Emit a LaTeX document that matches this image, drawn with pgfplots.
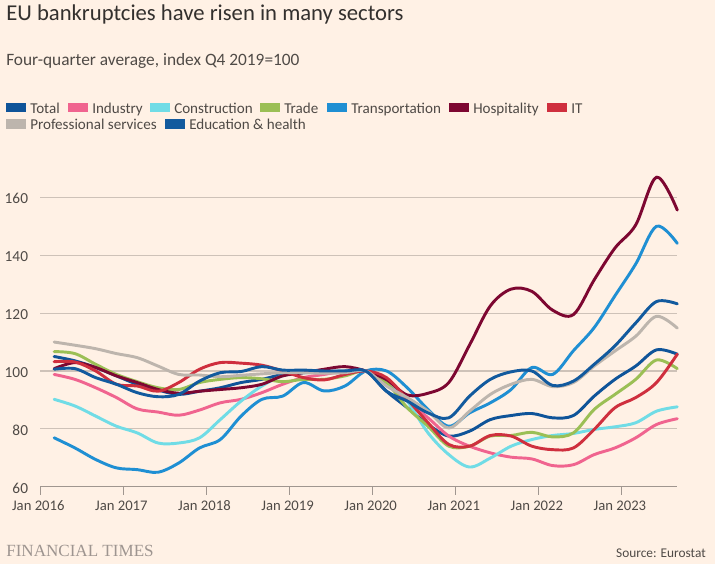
\documentclass[border=0pt]{standalone}
\usepackage{pgfplots}
\pgfplotsset{compat=1.18}
\usepackage{pgfplotstable}
\usepackage{fontspec}
\setmainfont{Carlito}
\newfontfamily\ftserif{Liberation Serif}
\definecolor{bgc}{HTML}{FFF1E5}
\definecolor{gridc}{HTML}{CEC2B8}
\definecolor{axisc}{HTML}{A0968F}
\definecolor{titlec}{HTML}{33302E}
\definecolor{subc}{HTML}{4F4A46}
\definecolor{tickc}{HTML}{4F4A46}
\definecolor{ftc}{HTML}{9E9590}
\definecolor{cTotal}{HTML}{0F5499}
\definecolor{cInd}{HTML}{F0648F}
\definecolor{cCon}{HTML}{70DCE6}
\definecolor{cTrade}{HTML}{9BBF55}
\definecolor{cTrans}{HTML}{1F8FD3}
\definecolor{cHosp}{HTML}{7D0731}
\definecolor{cIT}{HTML}{CF2F3E}
\definecolor{cProf}{HTML}{BDB5AD}
\definecolor{cEdu}{HTML}{125A9E}

\pgfplotstableread{
x  total industry construction trade transport hosp it prof edu
2  105   98.8 90.2 106.7 76.9 100.8 103.2 110   100.6
5  103.5 97.1 87.9 106   73.4 102.9 103.1 108.9 100.8
8  101.2 94.2 84.4 102.3 69.4 101.2 100   107.7 97.7
11 98.3  90.8 80.9 98.8  66.5 98.3  95.4  106   95.4
14 95.4  86.9 78.6 96.3  65.9 96    94.8  104.6 92.5
17 93.4  85.8 75.1 94.2  65   93.6  93    101.7 91.1
20 91.9  84.7 75.1 93.6  68.2 92.3  96    98.8  91.9
23 93    86.5 76.9 96    73.4 93    100.6 98.6  96.5
26 94.2  89   83.2 97.1  76.3 93.6  102.9 98    99.4
29 96    90.2 89.6 97.7  84.4 94.2  102.7 98.5  99.8
32 97.1  92.5 94.8 97.3  90.2 95.4  102   99    101.5
35 98.8  95.4 98.3 96.3  91.3 98.3  100   99.4  100.3
38 99.4  97.7 99.4 97.1  96   99.4  97.7  99.4  100.3
41 99.7  98.8 99.7 97.1  93.1 100.6 96.9  99.2  100
44 100   100  100  98.3  94.8 101.5 98.8  99.4  100
47 100   100  100  100   100  100   100   100   100
50 93    96   97.1 96    100  97    97.7  94.8  93
53 87.3  89.6 89.6 87.3  94.2 91.7  90.2  90.8  89.6
56 81.5  83.8 78.6 80.9  86.7 92.3  82.1  86.1  85.5
59 77.5  77.5 71.1 74    80.9 96    74.6  80.3  83.8
62 79.2  74   66.8 74    85.5 109   74    86.1  91.3
65 83.2  71.7 69.9 77.5  89   122.5 77.7  91.9  97.1
68 84.6  70.2 74   77.7  93.6 128.3 77.5  95.4  99.7
71 85.3  69.6 76.3 78.8  101.2 127.5 74   97.1  100
74 83.8  67.3 77.7 77.2  98.8 121   72.8  94.6  95
77 84.6  67.6 78.4 78.6  107  119.5 73.4  96    96.5
80 91.3  71.1 79.8 86.7  115  131.5 79.8  101.7 102.3
83 97.1  73.4 80.7 91.9  126  142.5 87.3  106.9 108.7
86 101.7 76.9 82.1 97.1  137  150.5 90.8  112   116.6
89 107.3 81.5 86.1 103.8 150  167   96    118.9 124
92 105.8 83.5 87.6 100.8 144.1 155.6 105.8 114.8 123.2
}\datatable

\begin{document}
\begin{tikzpicture}
\fill[bgc] (0pt,0pt) rectangle (536.25pt,-423pt);
\useasboundingbox (0pt,0pt) rectangle (536.25pt,-423pt);
\begin{axis}[
  at={(30.225pt,-365.025pt)}, anchor=south west,
  scale only axis, width=477.75pt, height=238.7pt,
  xmin=0, xmax=92, ymin=60, ymax=170,
  axis x line*=bottom, axis y line*=left,
  x axis line style={draw=axisc, line width=0.8pt, -},
  y axis line style={draw=none},
  xtick={0,12,24,36,48,60,72,84},
  xticklabels={Jan 2016,Jan 2017,Jan 2018,Jan 2019,Jan 2020,Jan 2021,Jan 2022,Jan 2023},
  ytick={60,80,100,120,140,160},
  ymajorgrids, grid style={draw=gridc, line width=0.8pt},
  tick align=outside, major tick length=6pt,
  xtick style={draw=axisc, line width=0.8pt},
  ytick style={draw=none},
  xticklabel style={font=\fontsize{11pt}{12pt}\selectfont, text=tickc, anchor=base, inner sep=0pt, yshift=-11.5pt, xshift=-1.5pt},
  yticklabel style={font=\fontsize{11.5pt}{13pt}\selectfont, text=tickc, anchor=base east, inner sep=0pt, xshift=-3pt, yshift=-4.9pt},
  /pgf/number format/assume math mode=true,
  every axis plot/.append style={line width=2.2pt, smooth, tension=0.55, no markers, line join=round, line cap=round},
  clip=false,
]
\addplot[cTotal] table[x=x,y=total]{\datatable};
\addplot[cInd] table[x=x,y=industry]{\datatable};
\addplot[cCon] table[x=x,y=construction]{\datatable};
\addplot[cTrade] table[x=x,y=trade]{\datatable};
\addplot[cTrans] table[x=x,y=transport]{\datatable};
\addplot[cHosp] table[x=x,y=hosp]{\datatable};
\addplot[cIT] table[x=x,y=it]{\datatable};
\addplot[cProf] table[x=x,y=prof]{\datatable};
\addplot[cEdu] table[x=x,y=edu]{\datatable};
\end{axis}
\begin{scope}[x=0.75pt,y=-0.75pt]
\node[anchor=base west, inner sep=0pt, text=titlec, font=\fontsize{17pt}{20pt}\selectfont] at (6,20.7) {EU bankruptcies have risen in many sectors};
\node[anchor=base west, inner sep=0pt, text=subc, font=\fontsize{13pt}{15pt}\selectfont] at (6,65) {Four-quarter average, index Q4 2019=100};
\foreach \sx/\col/\lab in {6/cTotal/Total, 68/cInd/Industry, 150/cCon/Construction, 260/cTrade/Trade, 327/cTrans/Transportation, 449/cHosp/Hospitality, 547/cIT/IT}{
  \fill[\col] (\sx,102.7) rectangle ++(20,9.5);
  \node[anchor=base west, inner sep=0pt, text=subc, font=\fontsize{11.3pt}{13pt}\selectfont] at (\sx+24,113.3) {\lab};
}
\foreach \sx/\col/\lab in {6/cProf/Professional services, 165/cEdu/Education \& health}{
  \fill[\col] (\sx,119.3) rectangle ++(20,9.5);
  \node[anchor=base west, inner sep=0pt, text=subc, font=\fontsize{11.3pt}{13pt}\selectfont] at (\sx+24,129.3) {\lab};
}
\node[anchor=base west, inner sep=0pt, text=ftc, font=\ftserif\fontsize{12.8pt}{14pt}\selectfont] at (6,556.5) {FINANCIAL TIMES};
\node[anchor=base east, inner sep=0pt, text=subc, font=\fontsize{10pt}{12pt}\selectfont] at (706,557.3) {Source: Eurostat};
\end{scope}
\end{tikzpicture}
\end{document}
